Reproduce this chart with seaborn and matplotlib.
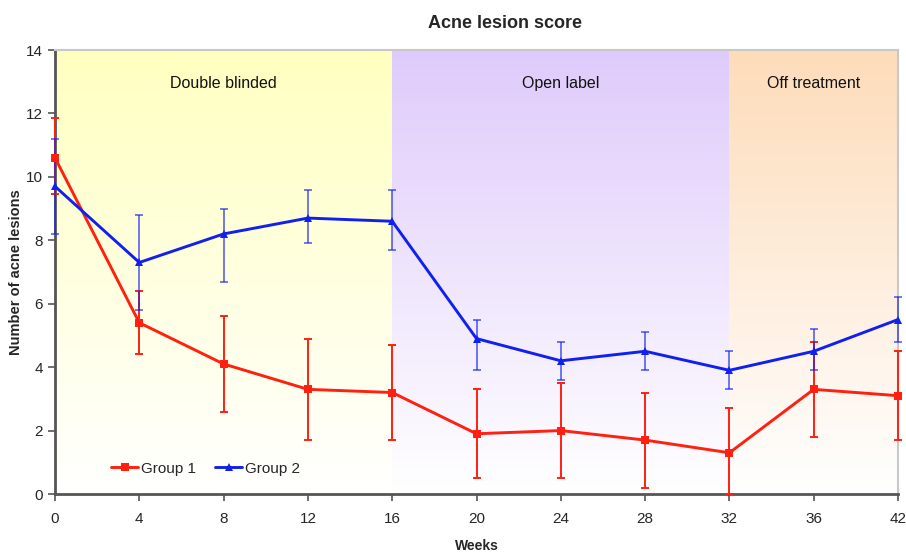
import numpy as np
import pandas as pd
import matplotlib
matplotlib.use("Agg")
import matplotlib.pyplot as plt
from matplotlib.colors import LinearSegmentedColormap
import seaborn as sns

weeks = ["0", "4", "8", "12", "16", "20", "24", "28", "32", "36", "42"]

g1_mean = [10.6, 5.4, 4.1, 3.3, 3.2, 1.9, 2.0, 1.7, 1.3, 3.3, 3.1]
g1_upper = [11.85, 6.4, 5.6, 4.9, 4.7, 3.3, 3.5, 3.2, 2.7, 4.8, 4.5]
g1_lower = [9.45, 4.4, 2.6, 1.7, 1.7, 0.5, 0.5, 0.2, 0.0, 1.8, 1.7]

g2_mean = [9.7, 7.3, 8.2, 8.7, 8.6, 4.9, 4.2, 4.5, 3.9, 4.5, 5.5]
g2_upper = [11.2, 8.8, 9.0, 9.6, 9.6, 5.5, 4.8, 5.1, 4.5, 5.2, 6.2]
g2_lower = [8.2, 5.8, 6.7, 7.9, 7.7, 3.9, 3.6, 3.9, 3.3, 3.9, 4.8]

phases = ["Double blinded", "Open label", "Off treatment"]
phase_start = ["0", "16", "32"]
phase_end = ["16", "32", "42"]
phase_colors = ["#ffffc0", "#dfcbfb", "#fddcba"]

sns.set_style("white")
plt.rcParams["font.family"] = ["Liberation Sans", "DejaVu Sans"]

pos = np.arange(len(weeks))
df = pd.DataFrame({
    "pos": np.concatenate([pos, pos]),
    "value": g1_mean + g2_mean,
    "group": ["Group 1"] * len(weeks) + ["Group 2"] * len(weeks),
})

fig = plt.figure(figsize=(9.06, 5.54), dpi=100)
ax = fig.add_axes([55 / 906, 1 - 494 / 554, (898 - 55) / 906, (494 - 50) / 554])

# gradient phase backgrounds
for name, s, e, c in zip(phases, phase_start, phase_end, phase_colors):
    x0, x1 = weeks.index(s), weeks.index(e)
    cmap = LinearSegmentedColormap.from_list(name, ["#ffffff", c])
    grad = np.linspace(0, 1, 256).reshape(-1, 1)
    ax.imshow(grad, extent=[x0, x1, 0, 14], origin="lower", cmap=cmap,
              aspect="auto", zorder=0, vmin=0, vmax=1)
    ax.text((x0 + x1) / 2, 12.95, name, ha="center", va="center", fontsize=11.5,
            color="#111111")

palette = {"Group 1": "#ff2010", "Group 2": "#1020ee"}

# error bars
for mean, up, lo, col, a in [(g1_mean, g1_upper, g1_lower, palette["Group 1"], 1.0),
                             (g2_mean, g2_upper, g2_lower, palette["Group 2"], 0.6)]:
    m = np.array(mean)
    yerr = [m - np.array(lo), np.array(up) - m]
    ebar = ax.errorbar(pos, m, yerr=yerr, fmt="none", ecolor=col, elinewidth=1.4,
                       capsize=3, capthick=1.4, alpha=a, zorder=4)
    for art in ebar.lines[1] + ebar.lines[2]:
        art.set_clip_on(False)

sns.lineplot(data=df, x="pos", y="value", hue="group", style="group",
             palette=palette, markers={"Group 1": "s", "Group 2": "^"},
             dashes=False, linewidth=2.1, markersize=6, markeredgewidth=0,
             ax=ax, zorder=5, clip_on=False)

ax.set_xlim(0, len(weeks) - 1)
ax.set_ylim(0, 14)
ax.set_xticks(pos)
ax.set_xticklabels(weeks)
ax.set_yticks(np.arange(0, 15, 2))
ax.tick_params(axis="both", direction="out", length=5, width=1.2,
               color="#555555", labelsize=11, bottom=True, left=True)
ax.tick_params(axis="x", pad=8)

for side in ["left", "bottom"]:
    ax.spines[side].set_color("#555555")
    ax.spines[side].set_linewidth(2)
for side in ["top", "right"]:
    ax.spines[side].set_color("#c8c8c8")
    ax.spines[side].set_linewidth(1.5)

ax.set_xlabel("Weeks", fontsize=10, fontweight="bold", labelpad=9)
ax.set_ylabel("Number of acne lesions", fontsize=10.5, fontweight="bold", labelpad=2)

leg = ax.legend(loc="lower left", bbox_to_anchor=(0.05, 0.01), ncol=2, frameon=False,
                fontsize=11, handlelength=1.8, handletextpad=0.2, columnspacing=1.2)

fig.text(505 / 906, 1 - 24 / 554, "Acne lesion score", ha="center", va="center",
         fontsize=13, fontweight="bold")

fig.savefig("out.png", dpi=100)
